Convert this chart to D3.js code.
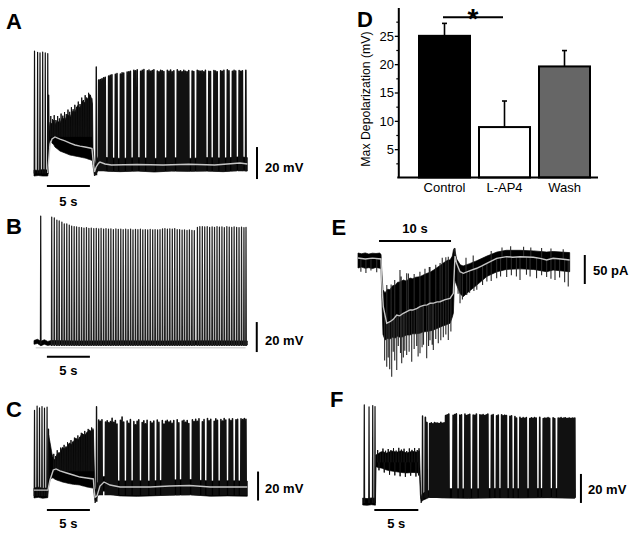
<!DOCTYPE html>
<html><head><meta charset="utf-8">
<script src="https://cdn.jsdelivr.net/npm/d3@7"></script>
<style>
body{margin:0;background:#fff}
svg{display:block}
text{font-family:"Liberation Sans",Arial,Helvetica,sans-serif;fill:#000}
</style>
</head><body>
<svg id="fig" width="635" height="533"></svg>
<script>
// ===================== DATA =====================
// ---- Panel A (time s, membrane potential mV) ----
const aBand = [[0,-58.8,-62.5],[0.5,-59,-62.2],[1.0,-58.5,-62.5],[1.6,-58.8,-62.5],
 [1.66,-45,-60],[1.72,-36,-42],
 [1.86,-28.8,-40],[2.09,-30,-41.9],[2.3,-27.5,-43],[2.44,-30.6,-44.4],[2.7,-28,-45.5],[3.02,-29.4,-46.9],[3.3,-26,-47.5],[3.6,-27.5,-48.1],[3.9,-24,-48.8],[4.19,-25.6,-49.4],[4.5,-22,-49.7],[4.77,-22.5,-50],[5.05,-18.5,-50.3],[5.35,-20,-50.6],[5.65,-15.5,-51],[5.93,-16.9,-51.25],[6.1,-13.5,-51.5],[6.28,-15,-51.9],[6.45,-11.5,-52.2],[6.63,-13.1,-52.5],[6.80,-17.5,-53],
 [6.86,-45,-56],[7.03,-56,-62.5],[7.2,-54,-61.5],
 [7.5,-50,-58.5],[8.5,-51,-59.5],[10,-51.5,-59.8],[12,-51,-59.4],[14,-51.5,-60],[16,-51,-59.4],[18,-51.5,-59.6],[20,-51,-59.4],[22,-51.3,-59.8],[24,-50.5,-59],[24.8,-51,-59.4]];
const aMean = [[1.6,-60.6],[1.66,-56],[1.75,-50],[1.86,-43.1],[2.09,-39.4],[2.44,-38.1],[3.02,-39.4],[3.6,-40.6],[4.19,-41.9],[4.77,-43.1],[5.35,-43.8],[5.93,-44.4],[6.51,-45],[6.74,-45.3],[6.86,-52],[7.03,-60],[7.21,-57],[7.5,-54.5],[7.67,-53.8],[8.26,-55],[9,-55.6],[12,-55.3],[15,-55.6],[18,-55.2],[21,-55.6],[23.95,-54.4],[24.8,-55]];
const aBurstFoot = -61;
const aBurst = [[0.06,15.6],[0.42,14.8],[0.70,14.4],[1.01,15.0],[1.31,14.4],[1.60,14.0]];
const aOnsetFoot = -44;
const aOnset = [[1.70,-12]];
const aDipFoot = -38;
const aDip = [[1.95,-25],[2.15,-27],[2.35,-24.5],[2.55,-27.5],[2.75,-25],[2.95,-26.5],[3.15,-23.5],[3.35,-24.8],[3.55,-22.5],[3.75,-23.8],[3.95,-21],[4.15,-22.4],[4.35,-19.5],[4.55,-20.8],[4.75,-18],[4.95,-19.4],[5.15,-16],[5.35,-17.5],[5.55,-13.5],[5.75,-15],[5.95,-12],[6.15,-13.6],[6.35,-10.5],[6.55,-11.8],[6.72,-14]];
const aBigFoot = -62;
const aBig = [[7.24,5.6]];
const aTrainFoot = -59.5;
const aTrain = [[7.52,-2.5],[7.71,-2.2],[7.90,-1.8],[8.09,-1.2],[8.28,-0.8],[8.68,0.0],[8.87,0.4],[9.06,0.8],[9.46,1.0],[9.65,1.5],
 [10.05,1.2],[10.24,2.0],[10.43,1.8],[10.83,2.4],[11.02,2.6],[11.21,3.0],[11.61,3.5],[11.80,3.2],[12.00,3.8],[12.40,3.0],
 [12.59,3.6],[12.78,4.1],[13.18,3.2],[13.37,3.7],[13.56,2.9],[13.75,3.4],[13.94,3.9],[14.34,3.1],[14.53,2.7],[14.72,3.6],
 [14.91,3.3],[15.10,2.8],[15.50,3.5],[15.69,3.0],[15.88,3.7],[16.07,2.6],[16.26,3.2],[16.66,3.8],[16.85,2.9],[17.04,3.3],
 [17.23,2.7],[17.42,3.5],[17.61,3.0],[17.80,2.6],[17.99,3.4],[18.39,3.1],[18.58,2.8],[18.98,3.6],[19.17,3.2],[19.36,2.9],
 [19.55,3.3],[19.74,2.7],[19.93,3.5],[20.33,3.0],[20.52,2.8],[20.92,3.4],[21.11,3.1],[21.30,2.6],[21.70,3.3],[21.89,2.9],
 [22.08,3.5],[22.48,3.8],[22.67,3.2],[23.07,3.0],[23.26,3.6],[23.45,3.1],[23.85,3.4],[24.04,2.9],[24.23,3.3],[24.63,3.5]];

// ---- Panel B ----
const bBand = [[0,-59,-61.5],[0.4,-58.2,-61],[0.8,-59.5,-62.5],[1.2,-58.5,-61.5],[1.6,-59.6,-62.3],[2.0,-59,-61.8],
 [5,-59.3,-62],[10,-59.2,-62],[15,-59.3,-62],[20,-59.2,-62],[24.8,-59.3,-62]];
const bShadow = [[0.2,-63.8],[24.6,-63.8]];
const bLoneFoot = -61.5;
const bLone = [[0.78,24]];
const bTrainFoot = -62.7;
const bTrain = [[2.06,23.3],[2.36,22.7],[2.66,21.3],[2.93,20.7],[3.24,20.0],[3.52,18.7],[3.81,18.7],[4.10,18.0],[4.38,17.3],[4.67,17.0],
 [4.95,16.7],[5.24,16.5],[5.53,16.3],[5.81,16.0],[6.10,16.2],[6.38,15.8],[6.66,16.0],[6.95,15.6],[7.24,15.8],[7.52,15.4],
 [7.80,15.7],[8.09,15.3],[8.37,15.6],[8.66,15.2],[8.94,15.5],[9.23,15.0],[9.52,15.4],[9.80,15.1],[10.09,15.3],[10.37,14.9],
 [10.66,15.2],[10.94,15.0],[11.23,15.3],[11.51,14.8],[11.80,15.1],[12.08,14.9],[12.37,15.2],[12.65,14.8],[12.94,15.0],[13.22,14.7],
 [13.51,15.1],[13.80,14.8],[14.08,15.0],[14.37,14.7],[14.65,14.9],[14.94,15.4],[15.22,15.6],[15.51,15.2],[15.79,15.5],[16.08,15.3],
 [16.36,15.6],[16.65,15.0],[16.93,14.9],[17.22,14.6],[17.50,14.8],[17.79,14.4],[18.07,14.7],[18.36,14.5],[18.64,14.2],[19.00,16.5],
 [19.28,16.9],[19.57,17.0],[19.85,16.7],[20.14,16.9],[20.42,16.4],[20.71,16.8],[20.99,16.5],[21.28,17.0],[21.56,16.6],[21.85,16.8],
 [22.13,16.3],[22.42,16.9],[22.70,16.6],[22.99,16.4],[23.27,16.8],[23.56,16.5],[23.84,16.3],[24.13,16.6],[24.41,16.2],[24.65,16.4]];

// ---- Panel C ----
const cBand = [[0,-56.6,-63.4],[0.5,-56,-63],[1.0,-56.8,-63.6],[1.6,-56.5,-63.2],
 [1.70,-20,-55],[1.86,-25,-51],[2.09,-33,-49.5],[2.24,-36,-49.7],[2.44,-37.2,-50.5],[2.7,-33,-51.2],[3.02,-32.4,-51.8],[3.3,-28.5,-52.4],[3.6,-29.6,-52.8],[3.8,-28.3,-53.1],[4.1,-25.5,-53.5],[4.37,-26.5,-53.8],[4.57,-24.8,-54],[4.85,-22,-54.2],[5.1,-23.5,-54.3],[5.35,-21.4,-54.5],[5.6,-19,-55],[5.9,-20.2,-55.4],[6.13,-18.6,-55.8],[6.4,-16.5,-56.1],[6.65,-17.6,-56.4],[6.90,-16.6,-56.6],
 [7.0,-40,-61.4],[7.1,-58,-66.9],[7.2,-57,-65],
 [7.4,-53,-62],[7.67,-50.5,-60],[8.14,-48.5,-58.5],[8.84,-51,-61],[10,-51.8,-62],[12,-51.5,-62.3],[13.5,-51.8,-62],[15.8,-51,-61.5],[18.1,-50.7,-61.2],[20.5,-51.8,-62.2],[22.5,-51.5,-62],[24.8,-51.8,-62.2]];
const cMean = [[0,-58],[1.63,-58],[1.86,-51],[2.24,-44.1],[2.56,-43.4],[3.02,-44.8],[3.8,-46.2],[4.57,-47.6],[5.35,-49],[6.13,-49.7],[6.9,-50.3],[7.0,-58],[7.1,-63],[7.33,-62],[7.67,-55.2],[8.14,-52.4],[8.84,-54.5],[10,-55.9],[13.5,-55.9],[15.8,-55.2],[18.1,-54.8],[20.5,-55.9],[24.8,-55.9]];
const cBurstFoot = -62;
const cBurst = [[0.06,-3],[0.36,0],[0.64,-1.2],[0.93,-0.4],[1.22,-1.5],[1.52,-0.8]];
const cOnsetFoot = -50;
const cOnset = [[1.68,-16]];
const cDipFoot = -45;
const cDip = [[2.3,-33],[2.5,-34.5],[2.7,-30.5],[2.9,-32],[3.1,-28.7],[3.3,-30],[3.5,-26.8],[3.7,-28],[3.9,-25],[4.1,-26.4],[4.3,-23.5],[4.5,-24.6],[4.7,-21.8],[4.9,-23],[5.1,-20.3],[5.3,-21.4],[5.5,-18.5],[5.7,-19.8],[5.9,-17.2],[6.1,-18.4],[6.3,-15.8],[6.5,-17],[6.7,-14.8],[6.85,-15.6]];
const cBigFoot = -66;
const cBig = [[7.27,-0.5]];
const cTrainFoot = -61.5;
const cTrain = [[7.52,-9.7],[7.71,-10.5],[7.90,-9.5],[8.32,-11],[8.51,-10.2],[8.70,-11.5],[8.89,-10.8],[9.08,-8.5],[9.27,-11.2],[9.46,-10],
 [9.65,-12.5],[10.05,-9.8],[10.24,-7.6],[10.43,-11],[10.83,-10.3],[11.02,-12],[11.21,-9.4],[11.61,-10.8],[11.80,-13],[11.99,-10.5],
 [12.18,-9.6],[12.58,-11.4],[12.77,-10.2],[12.96,-12.2],[13.15,-9.9],[13.55,-10.8],[13.74,-11.8],[13.93,-10.4],[14.33,-9.7],[14.52,-11.3],
 [14.92,-10.1],[15.11,-12.4],[15.30,-10.6],[15.49,-9.8],[15.68,-11],[15.87,-10.3],[16.06,-12],[16.25,-10.1],[16.65,-9.5],[16.84,-11.6],
 [17.24,-10.4],[17.43,-9.9],[17.62,-11.2],[17.81,-10],[18.00,-12.1],[18.42,-9.6],[18.61,-10.7],[18.80,-9.2],[18.99,-10.5],[19.18,-8.8],
 [19.58,-10.9],[19.77,-9.4],[20.17,-8.7],[20.36,-10.2],[20.55,-9.1],[20.95,-10.6],[21.14,-8.9],[21.33,-9.8],[21.73,-9.3],[21.92,-10.4],
 [22.11,-8.6],[22.30,-9.7],[22.70,-9.0],[22.89,-10.1],[23.08,-8.8],[23.48,-9.5],[23.67,-9.2],[24.07,-8.9],[24.26,-9.4],[24.45,-8.7],[24.64,-9.1]];

// ---- Panel D (bar chart) ----
const dCats = ["Control","L-AP4","Wash"];
const dMeans = [25.0, 8.9, 19.6];
const dErrs = [2.2, 4.6, 2.8];
const dTicks = [5,10,15,20,25];
const dMinorTicks = [2.5,7.5,12.5,17.5,22.5,27.5];
const dSig = ["Control","L-AP4"];

// ---- Panel E (time s, current pA) ----
const eBand = [[0,10.3,-15.5],[0.5,9,-14],[1.0,10.5,-16],[1.5,8.5,-15],[2.0,10,-16.5],[2.5,9.5,-14.5],[3.0,10.2,-15.8],[3.2,8,-17],
 [3.3,-20,-60],[3.47,-53,-130],[3.75,-58.6,-139.7],[4.1,-52,-137],[4.44,-53,-138],[4.8,-46,-135],[5.2,-45,-136],[5.5,-40,-133],[5.83,-39.7,-135],[6.3,-36.2,-134],[6.7,-38,-131],[7.22,-32.8,-131],[7.6,-34,-129],[8.0,-31.5,-129],[8.6,-30.5,-128],[9.0,-28,-126],[9.5,-25,-125],[10.0,-23,-124],[10.5,-19,-122.4],[11.3,-12,-118],[11.85,-6.9,-115],[12.2,-4,-114],[12.5,-1.7,-112],[12.78,-1.7,-110.9],[13.1,5,-100],[13.25,15.5,-93],
 [13.4,19,-35],[13.7,0,-45],[14.2,-10,-60],[14.6,-12,-65],[15.5,-8,-55],[16.5,-3,-45],[17.9,5,-30],[19.3,12,-22],[20.6,15,-18],[22.5,15,-17],[24.4,14,-18],[26.2,12,-22],[27.1,13,-19],[29.4,11,-22]];
const eMean = [[0,1.7],[1,0],[2,1.5],[3.19,0],[3.29,-36.2],[3.51,-82.2],[3.99,-110.9],[4.44,-108.1],[4.9,-104],[5.38,-96.6],[5.8,-98],[6.29,-93.6],[6.7,-91],[7.22,-87.9],[7.6,-88],[8.2,-85],[8.61,-82.2],[9.1,-80],[9.6,-79],[10,-76.4],[10.5,-76],[11,-74],[11.39,-73.6],[12.1,-70],[12.78,-67.8],[13.24,-59.1],[13.47,5],[13.7,-7.4],[14.17,-21.9],[14.63,-24.7],[15.56,-20.2],[16.49,-16],[17.2,-12],[17.88,-7.4],[19.26,1.2],[20.65,4],[21.5,3],[22.5,4],[24.35,2.9],[25.3,1],[26.2,-1.7],[27.1,1.2],[28.2,0],[29.4,-1.7]];
const eDown = [[3.99,-185.7],[4.2,-170],[4.68,-203],[4.9,-160],[5.38,-191.4],[5.6,-150],[6.07,-179.8],[6.3,-170],[6.76,-165.5],[7.46,-177],[8.15,-150],[8.61,-162.6],[9.1,-148],[9.54,-171.2],[10,-140],[10.46,-156.9],[11.15,-145.3],[11.85,-135],[12.54,-139.7],
 [3.7,-175],[4.4,-190],[5.1,-175],[5.9,-162],[6.5,-158],[7.1,-160],[7.8,-155],[8.35,-168],[8.9,-152],[9.8,-150],[10.3,-148],[10.8,-138],[11.5,-140],[12.2,-130],[12.9,-125],
 [14.17,-76.4],[15.1,-62],[16.5,-53],[17.9,-39],[19.26,-33],[20.65,-31],[22.5,-36],[23.4,-27],[24.8,-33],[26.2,-31],[27.36,-36],[29.2,-47.6],
 [13.9,-60],[14.5,-70],[15.5,-58],[16.1,-55],[17.3,-45],[18.5,-38],[19.8,-30],[21.3,-28],[22.0,-30],[23.9,-30],[25.5,-28],[26.8,-34],[28.0,-32],[28.7,-40],
 [0.4,-22],[1.1,-24],[1.8,-20],[2.6,-23]];
const eUp = [[5.83,-19],[6.76,-24.7],[8.6,-21.9],[10,-13.8],[11.4,-6.9],[12.54,4],[13.47,18.4],
 [4.0,-45],[4.6,-44],[5.1,-36],[6.0,-30],[7.0,-25],[7.8,-26],[9.3,-17],[9.9,-14],[10.8,-10],[11.7,2],[12.2,3],
 [15.0,2],[16.0,6],[18.5,14],[20.0,20],[21.2,22],[23.0,21],[24.0,20],[25.5,19],[26.8,18],[28.5,17]];

// ---- Panel F ----
const fBand = [[0,-57.6,-62.4],[0.5,-58,-62.6],[1.0,-57.5,-62.2],[1.45,-57.8,-62.5],[1.50,-27.9,-36],[1.77,-27,-36.5],[2.2,-25.5,-37],[2.72,-26.6,-38.3],[3.3,-25.2,-39],[3.86,-26,-39.5],[4.4,-25,-40],[5.0,-26.6,-40.3],[5.6,-25.4,-40],[6.13,-25.9,-40.1],[6.45,-25,-40.5],
 [6.55,-45,-55],[6.63,-58,-61],[6.75,-55,-59.5],[6.9,-54.1,-59],[7.65,-52.1,-56.9],[9,-51,-57.5],[12,-51.3,-57.8],[15,-51,-57.5],[18,-51.2,-57.6],[21,-51,-57.4],[24.1,-51.2,-57.8]];
const fBurstFoot = -61;
const fBurst = [[0.18,6.6],[0.72,5.2],[1.14,6.2],[1.40,5.5]];
const fNoiseFoot = -33;
const fNoise = [[1.7,-24.5],[2.0,-25.8],[2.3,-23.5],[2.6,-25],[2.9,-23.8],[3.2,-24.6],[3.5,-23.2],[3.8,-24.9],[4.1,-23],[4.4,-24.2],[4.7,-23.6],[5.0,-25.2],[5.3,-23.4],[5.6,-24.4],[5.9,-23.1],[6.2,-24.5],[6.4,-23.3],
 [1.85,-38.5],[2.45,-40],[3.05,-41.5],[3.65,-42],[4.25,-42.6],[4.85,-43],[5.45,-42.2],[6.05,-42.8],[6.35,-42]];
const fBigFoot = -59;
const fBig = [[6.8,-1]];
const fTrainFoot = -57.5;
const fTrain = [[7.12,-2],[7.30,-5.5],[7.62,-6.2],[7.80,-5.8],[7.98,-6.5],[8.16,-5.6],[8.34,-6],[8.52,-5.9],[8.70,-6.3],[8.88,-5.4],
 [9.06,-6.1],[9.24,-5.7],[9.42,-0.8],[9.60,-0.2],[9.78,0.3],[10.28,-0.6],[10.46,-0.1],[10.64,0.4],[11.04,-0.5],[11.22,-0.2],
 [11.62,0.2],[11.80,-0.7],[11.98,-0.3],[12.16,0.1],[12.56,-0.4],[12.74,-0.6],[12.92,0.3],[13.32,-0.2],[13.50,-0.5],[13.68,0.0],
 [13.86,-0.8],[14.04,-0.3],[14.22,0.2],[14.64,-0.6],[14.82,-0.1],[15.22,-0.9],[15.40,-0.4],[15.79,-0.2],[15.97,-1.0],[16.15,-0.5],
 [16.33,-0.7],[16.73,-1.2],[16.91,-0.9],[17.30,-1.5],[17.48,-2.4],[17.87,-2.0],[18.05,-2.8],[18.23,-2.2],[18.41,-2.6],[18.59,-2.1],
 [18.99,-2.9],[19.17,-2.3],[19.35,-2.7],[19.53,-2.2],[19.71,-2.5],[20.12,-2.0],[20.52,-2.8],[20.70,-2.4],[20.88,-2.6],[21.06,-2.1],
 [21.24,-2.7],[21.64,-2.3],[21.82,-2.9],[22.22,-2.4],[22.38,-2.6],[22.54,-2.2],[22.70,-2.8],[22.86,-2.5],[23.02,-2.3],[23.18,-2.9],
 [23.34,-2.6],[23.50,-2.4],[23.66,-2.8],[23.82,-2.5],[23.98,-2.7],[24.10,-2.4]];

// scale-bar values
const mvBar = 20, sBar = 5, eSBar = 10, paBar = 50;

// ===================== DRAWING =====================
const svg = d3.select('#fig');

function trace(g, x, y, band, mean, groups, meanColor){
  g.append('path').datum(band)
    .attr('d', d3.area().x(d=>x(d[0])).y0(d=>y(d[2])).y1(d=>y(d[1])))
    .attr('fill','#000').attr('stroke','#000').attr('stroke-width',0.7).attr('stroke-linejoin','round');
  groups.forEach(gr=>{
    const hw = gr.hw===undefined ? 0.3 : gr.hw;
    const d = gr.spikes.map(s=>{
      const xt=x(s[0]), yp=y(s[1]), yf=y(gr.foot);
      return `M${xt-hw},${yf}L${xt},${yp}L${xt+hw},${yf}`;
    }).join('');
    g.append('path').attr('d',d).attr('fill','none').attr('stroke',gr.color||'#111')
      .attr('stroke-width',gr.w||1.4).attr('stroke-linejoin','round');
  });
  if(mean){
    g.append('path').datum(mean)
      .attr('d', d3.line().x(d=>x(d[0])).y(d=>y(d[1])))
      .attr('fill','none').attr('stroke',meanColor||'#c4c4c4').attr('stroke-width',1.4);
  }
}
function vBar(g, xp, y0, y1){
  g.append('line').attr('x1',xp).attr('x2',xp).attr('y1',y0).attr('y2',y1).attr('stroke','#000').attr('stroke-width',2);
}
function hBar(g, x0, x1, yp){
  g.append('line').attr('x1',x0).attr('x2',x1).attr('y1',yp).attr('y2',yp).attr('stroke','#000').attr('stroke-width',2);
}
function label(g, txt, x, y, anchor, size){
  g.append('text').attr('x',x).attr('y',y).attr('text-anchor',anchor||'start')
   .attr('font-size',size||13).attr('font-weight','bold').text(txt);
}
function letter(txt, x, y){
  svg.append('text').attr('x',x).attr('y',y).attr('font-size',22).attr('font-weight','bold').text(txt);
}

// ---- A ----
{
  const g = svg.append('g');
  const x = d3.scaleLinear().domain([0,24.8]).range([34,247.3]);
  const y = d3.scaleLinear().domain([-60,20]).range([172,44]);
  trace(g, x, y, aBand, aMean, [
    {foot:aBurstFoot, spikes:aBurst, w:1.2},{foot:aOnsetFoot, spikes:aOnset},
    {foot:aDipFoot, spikes:aDip, w:1},
    {foot:aBigFoot, spikes:aBig},{foot:aTrainFoot, spikes:aTrain, w:1.6}]);
  vBar(g, x(25.93), y(-64.4), y(-64.4+mvBar));
  label(g, mvBar+' mV', 265, 171.5);
  hBar(g, x(1.5), x(1.5+sBar), y(-68.75));
  label(g, sBar+' s', (x(1.5)+x(1.5+sBar))/2, 205.5, 'middle');
  letter('A', 6, 28.5);
}
// ---- B ----
{
  const g = svg.append('g');
  const x = d3.scaleLinear().domain([0,24.8]).range([34,247.3]);
  const y = d3.scaleLinear().domain([-60,25]).range([342,214.5]);
  g.append('path').datum(bShadow).attr('d', d3.line().x(d=>x(d[0])).y(d=>y(d[1])))
    .attr('fill','none').attr('stroke','#d8d8d8').attr('stroke-width',1.5);
  trace(g, x, y, bBand, null, [{foot:bLoneFoot, spikes:bLone, w:1.2},{foot:bTrainFoot, spikes:bTrain, w:1.25, color:'#222'}]);
  vBar(g, x(25.9), y(-66.7), y(-66.7+mvBar));
  label(g, mvBar+' mV', 265, 344.5);
  hBar(g, x(1.5), x(1.5+sBar), y(-69.8));
  label(g, sBar+' s', (x(1.5)+x(1.5+sBar))/2, 375, 'middle');
  letter('B', 6, 234);
}
// ---- C ----
{
  const g = svg.append('g');
  const x = d3.scaleLinear().domain([0,24.8]).range([34,247.3]);
  const y = d3.scaleLinear().domain([-60,0]).range([493,406]);
  trace(g, x, y, cBand, cMean, [
    {foot:cBurstFoot, spikes:cBurst, w:1.2},{foot:cOnsetFoot, spikes:cOnset},
    {foot:cDipFoot, spikes:cDip, w:1},
    {foot:cBigFoot, spikes:cBig},{foot:cTrainFoot, spikes:cTrain, w:1.6}]);
  vBar(g, x(26.05), y(-65.2), y(-65.2+mvBar));
  label(g, mvBar+' mV', 265, 492.5);
  hBar(g, x(1.5), x(1.5+sBar), y(-71.7));
  label(g, sBar+' s', (x(1.5)+x(1.5+sBar))/2, 527.5, 'middle');
  letter('C', 6, 417);
}
// ---- D ----
{
  const g = svg.append('g');
  const y = d3.scaleLinear().domain([0,30]).range([177.5,7.5]);
  const x = d3.scaleBand().domain(dCats).range([414.5,594.5]).paddingInner(0.15).paddingOuter(0.075);
  const fills = {"Control":"#000","L-AP4":"#fff","Wash":"#666"};
  dCats.forEach((c,i)=>{
    g.append('rect').attr('x',x(c)).attr('y',y(dMeans[i])).attr('width',x.bandwidth())
      .attr('height',y(0)-y(dMeans[i])).attr('fill',fills[c]).attr('stroke','#000').attr('stroke-width',2);
    const xc = x(c)+x.bandwidth()/2;
    g.append('line').attr('x1',xc).attr('x2',xc).attr('y1',y(dMeans[i])).attr('y2',y(dMeans[i]+dErrs[i]))
      .attr('stroke','#000').attr('stroke-width',1.6);
    g.append('line').attr('x1',xc-2.5).attr('x2',xc+2.5).attr('y1',y(dMeans[i]+dErrs[i])).attr('y2',y(dMeans[i]+dErrs[i]))
      .attr('stroke','#000').attr('stroke-width',1.6);
  });
  const ya = g.append('g').attr('transform','translate(398.3,0)')
    .call(d3.axisLeft(y).tickValues(dTicks).tickSize(3.5).tickSizeOuter(0).tickPadding(0.8));
  ya.select('.domain').attr('stroke-width',2);
  ya.selectAll('.tick line').attr('stroke-width',1.3);
  ya.selectAll('text').attr('font-size',13).attr('font-family','"Liberation Sans",Arial,sans-serif');
  const ym = g.append('g').attr('transform','translate(398.3,0)')
    .call(d3.axisLeft(y).tickValues(dMinorTicks).tickSize(2).tickFormat(''));
  ym.select('.domain').remove();
  ym.selectAll('.tick line').attr('stroke-width',1.2);
  g.append('line').attr('x1',397.3).attr('x2',598).attr('y1',y(0)).attr('y2',y(0)).attr('stroke','#000').attr('stroke-width',2);
  const xa = g.append('g').attr('transform',`translate(0,${y(0)})`)
    .call(d3.axisBottom(x).tickSize(0).tickPadding(4.8));
  xa.select('.domain').remove();
  xa.selectAll('text').attr('font-size',13).attr('font-family','"Liberation Sans",Arial,sans-serif');
  g.append('text').attr('transform','translate(369.5,99) rotate(-90)').attr('text-anchor','middle')
    .attr('font-size',12.3).text('Max Depolarization (mV)');
  const x0 = x(dSig[0])+x.bandwidth()/2-1.5, x1 = x(dSig[1])+x.bandwidth()/2-1.5;
  g.append('line').attr('x1',x0).attr('x2',x1).attr('y1',17.3).attr('y2',17.3).attr('stroke','#000').attr('stroke-width',2);
  g.append('text').attr('x',(x0+x1)/2).attr('y',27.5).attr('text-anchor','middle').attr('font-size',28).attr('font-weight','bold').text('*');
  letter('D', 357, 27);
}
// ---- E ----
{
  const g = svg.append('g');
  const x = d3.scaleLinear().domain([0,29.5]).range([358,570.4]);
  const y = d3.scaleLinear().domain([-200,0]).range([375,259]);
  const meanAt = d3.scaleLinear().domain(eMean.map(d=>d[0])).range(eMean.map(d=>d[1]));
  g.append('path').datum(eBand)
    .attr('d', d3.area().x(d=>x(d[0])).y0(d=>y(d[2])).y1(d=>y(d[1])))
    .attr('fill','#000').attr('stroke','#000').attr('stroke-width',0.7).attr('stroke-linejoin','round');
  const tr = eDown.concat(eUp).map(d=>`M${x(d[0])},${y(meanAt(d[0]))}L${x(d[0])},${y(d[1])}`).join('');
  g.append('path').attr('d',tr).attr('stroke','#2a2a2a').attr('stroke-width',1.1).attr('fill','none');
  g.append('path').datum(eMean).attr('d', d3.line().x(d=>x(d[0])).y(d=>y(d[1])))
    .attr('fill','none').attr('stroke','#c4c4c4').attr('stroke-width',1.4);
  vBar(g, x(31.5), y(6.9), y(6.9-paBar));
  label(g, paBar+' pA', 593, 274.5);
  hBar(g, x(2.92), x(2.92+eSBar), y(31));
  label(g, eSBar+' s', (x(2.92)+x(2.92+eSBar))/2, 233, 'middle');
  letter('E', 331.5, 235);
}
// ---- F ----
{
  const g = svg.append('g');
  const x = d3.scaleLinear().domain([0,24]).range([362.7,573.9]);
  const y = d3.scaleLinear().domain([-60,0]).range([501.5,414.5]);
  trace(g, x, y, fBand, null, [
    {foot:fBurstFoot, spikes:fBurst, w:1.2},{foot:fNoiseFoot, spikes:fNoise, w:1},
    {foot:fBigFoot, spikes:fBig},{foot:fTrainFoot, spikes:fTrain, w:1.7}]);
  vBar(g, x(24.8), y(-61), y(-61+mvBar));
  label(g, mvBar+' mV', 588, 493.5);
  hBar(g, x(1.32), x(1.32+sBar), y(-65.9));
  label(g, sBar+' s', (x(1.32)+x(1.32+sBar))/2, 528, 'middle');
  letter('F', 330, 407);
}
</script>
</body></html>
